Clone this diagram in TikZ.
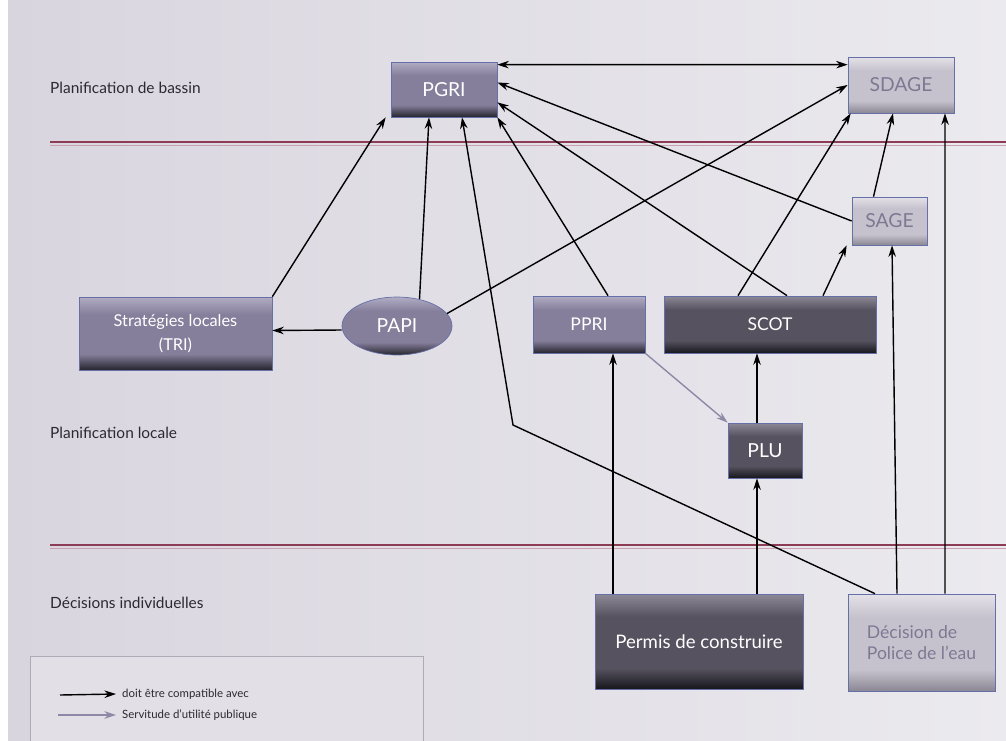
\documentclass[tikz,border=0pt]{standalone}
\usepackage{fontspec}
\setmainfont{Lato}
\usetikzlibrary{arrows.meta,calc,shapes.geometric}

\definecolor{bgl}{HTML}{D9D5DF}
\definecolor{bgr}{HTML}{EBEAEE}
\definecolor{boxedge}{HTML}{6670A8}
\definecolor{mlt}{HTML}{B1ACC3}
\definecolor{mbase}{HTML}{857F9B}
\definecolor{mdk}{HTML}{26242E}
\definecolor{dlt}{HTML}{8C8896}
\definecolor{dbase}{HTML}{56525F}
\definecolor{ddk}{HTML}{17161C}
\definecolor{llt}{HTML}{E4E1E8}
\definecolor{lbase}{HTML}{C6C2CD}
\definecolor{ldk}{HTML}{8A8693}
\definecolor{lighttext}{HTML}{7E7993}
\definecolor{lanetext}{HTML}{2A2A30}
\definecolor{servcol}{HTML}{8E89A6}
\definecolor{redline}{HTML}{8E3B56}
\definecolor{pinkline}{HTML}{C9A0AF}
\definecolor{legfill}{HTML}{E2DFE6}
\definecolor{legedge}{HTML}{AEABB6}

\pgfdeclareverticalshading{midshade}{100bp}{color(0bp)=(mdk); color(25bp)=(mdk); color(36bp)=(mbase); color(63bp)=(mbase); color(75bp)=(mlt); color(100bp)=(mlt)}
\pgfdeclareverticalshading{darkshade}{100bp}{color(0bp)=(ddk); color(25bp)=(ddk); color(36bp)=(dbase); color(63bp)=(dbase); color(75bp)=(dlt); color(100bp)=(dlt)}
\pgfdeclareverticalshading{lightshade}{100bp}{color(0bp)=(ldk); color(25bp)=(ldk); color(36bp)=(lbase); color(63bp)=(lbase); color(75bp)=(llt); color(100bp)=(llt)}

\begin{document}
\begin{tikzpicture}[x=0.02cm,y=-0.02cm,>={Stealth[length=2.3mm,width=1.5mm]},
    box/.style={rectangle,draw=boxedge,line width=0.4pt,inner sep=0pt,align=center,font=\fontsize{10}{12}\selectfont},
    midbox/.style={box,shade,shading=midshade,text=white},
    darkbox/.style={box,shade,shading=darkshade,text=white},
    lightbox/.style={box,shade,shading=lightshade,text=lighttext},
    lane/.style={anchor=west,font=\fontsize{8.8}{10}\selectfont,text=lanetext},
    legtext/.style={anchor=west,font=\fontsize{6.5}{8}\selectfont,text=lanetext},
    link/.style={->,line width=0.8pt},
    servlink/.style={->,line width=0.8pt,draw=servcol,fill=servcol}]
\useasboundingbox (0,0) rectangle (1006,740);
\fill[white] (0,0) rectangle (1006,740);
\shade[left color=bgl,right color=bgr] (8,0) rectangle (1006,740);
\foreach \y in {142,545} {
  \draw[redline,line width=1.6pt] (50,\y) -- (1006,\y);
  \draw[pinkline,line width=1pt] (50,\y+3.5) -- (1006,\y+3.5);
}

% lanes
\node[lane] (bassin) at (44,88) {Planification de bassin};
\node[lane] (locale) at (44,433) {Planification locale};
\node[lane] (indiv) at (44,603) {Décisions individuelles};

% boxes
\node[midbox,minimum width=2.12cm,minimum height=1.10cm,font=\fontsize{11}{13}\selectfont] (pgri) at (444,89.5) {PGRI};
\node[lightbox,minimum width=2.12cm,minimum height=1.12cm,font=\fontsize{11}{13}\selectfont] (sdage) at (901,85) {SDAGE};
\node[lightbox,minimum width=1.5cm,minimum height=0.96cm,font=\fontsize{11}{13}\selectfont] (sage) at (889.5,221) {SAGE};
\node[midbox,minimum width=3.86cm,minimum height=1.46cm,font=\fontsize{9.3}{14}\selectfont] (tri) at (175.5,333.5) {Stratégies locales\\(TRI)};
\node[midbox,ellipse,minimum width=2.2cm,minimum height=1.16cm,font=\fontsize{11}{13}\selectfont] (papi) at (397,326) {PAPI};
\node[midbox,minimum width=2.24cm,minimum height=1.14cm] (ppri) at (589,324.5) {PPRI};
\node[darkbox,minimum width=4.24cm,minimum height=1.14cm] (scot) at (770,324.5) {SCOT};
\node[darkbox,minimum width=1.48cm,minimum height=1.10cm,font=\fontsize{11}{13}\selectfont] (plu) at (765,450.5) {PLU};
\node[darkbox,minimum width=4.16cm,minimum height=1.90cm,font=\fontsize{10.6}{13}\selectfont] (permis) at (699,641.5) {Permis de construire};
\node[lightbox,minimum width=2.94cm,minimum height=1.94cm,align=left] (police) at (921.5,642.5) {Décision de\\Police de l’eau};
\coordinate (bend) at (513,425);

% links
\draw[link,<->] ($(pgri.north east)+(0,3)$) -- ($(sdage.north west)+(0,8)$);
\draw[link] (papi.14) -- (sdage.west);
\draw[link] ($(scot.north)+(-32,0)$) -- ($(sdage.south west)+(3,0)$);
\draw[link] ($(sage.north)+(-16,0)$) -- ($(sdage.south)+(-8,0)$);
\draw[link] ($(police.north)+(23.5,0)$) -- ($(sdage.south)+(44,0)$);
\draw[link] ($(scot.north)+(53,0)$) -- ($(sage.south west)+(-5,0)$);
\draw[link] ($(police.north)+(-24.5,0)$) -- ($(sage.south)+(2.5,0)$);
\draw[link] (sage.west) -- ($(pgri.east)+(0,-7)$);
\draw[link] ($(scot.north)+(17,0)$) -- ($(pgri.south east)+(0,-15)$);
\draw[link] ($(ppri.north)+(19,0)$) -- (pgri.south east);
\draw[link] ($(police.north)+(-46.5,0)$) -- (bend) -- ($(pgri.south)+(18,0)$);
\draw[link] (papi.50) -- ($(pgri.south)+(-15,0)$);
\draw[link] (tri.north east) -- ($(pgri.south west)+(-5,0)$);
\draw[link] ($(papi.west)+(0,4)$) -- ($(tri.east)+(0,-3)$);
\draw[servlink] (ppri.south east) -- (plu.north west);
\draw[link] ($(permis.north)+(-86,0)$) -- ($(ppri.south)+(24,0)$);
\draw[link] ($(permis.north)+(58,0)$) -- ($(plu.south)+(-8,0)$);
\draw[link] ($(plu.north)+(-8,0)$) -- ($(scot.south)+(-13,0)$);

% legend
\draw[draw=legedge,fill=legfill] (30,656) rectangle (423,760);
\node[legtext] (leg1) at (116,694) {doit être compatible avec};
\node[legtext] (leg2) at (116,715) {Servitude d’utilité publique};
\coordinate (l1) at (60,695);
\coordinate (l2) at (58,715);
\draw[link] (l1) -- (leg1.west);
\draw[servlink] (l2) -- (leg2.west);
\end{tikzpicture}
\end{document}
